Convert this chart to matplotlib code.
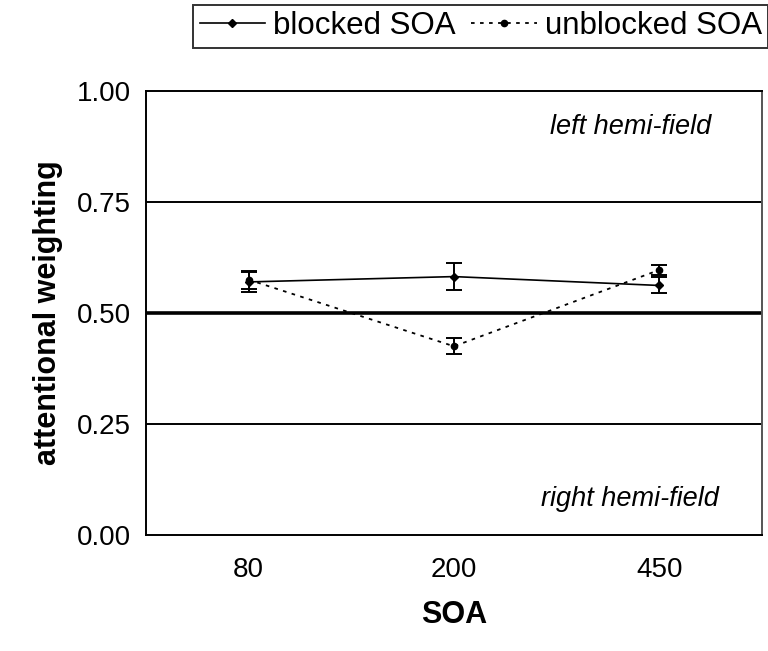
import matplotlib
matplotlib.use("Agg")
import matplotlib.pyplot as plt
from matplotlib.lines import Line2D
import numpy as np

plt.rcParams['font.family'] = ['Liberation Sans', 'DejaVu Sans']

soa_labels = ["80", "200", "450"]
blocked = [0.570, 0.582, 0.562]
blocked_err = [0.022, 0.030, 0.018]
unblocked = [0.575, 0.425, 0.597]
unblocked_err = [0.020, 0.018, 0.012]
y_ticks = [0.00, 0.25, 0.50, 0.75, 1.00]

fig = plt.figure(figsize=(7.68, 6.51), dpi=100)
ax = fig.add_axes([146/768, 1 - 535/651, (762-146)/768, (535-91)/651])

x = np.arange(len(soa_labels)) + 0.5

# reference lines
for yv in (0.25, 0.75):
    ax.axhline(yv, color='black', lw=1.4, zorder=1)
ax.axhline(0.5, color='black', lw=2.6, zorder=1)

blocked_style = dict(color='black', lw=1.2, marker='D', ms=4)
unblocked_style = dict(color='black', lw=1.3, ls=(0, (2, 3)), marker='o', ms=4.5)

ax.errorbar(x, blocked, yerr=blocked_err, capsize=6, capthick=1.4,
            elinewidth=1.4, zorder=3, **blocked_style)
ax.errorbar(x, unblocked, yerr=unblocked_err, capsize=6, capthick=1.4,
            elinewidth=1.4, zorder=3, **unblocked_style)

ax.set_xlim(0, 3)
ax.set_ylim(0, 1)
ax.set_xticks(x)
ax.set_xticklabels(soa_labels)
ax.set_yticks(y_ticks)
ax.set_yticklabels([f"{v:.2f}" for v in y_ticks])
ax.tick_params(axis='both', length=0, labelsize=20)
ax.tick_params(axis='y', pad=11)
ax.tick_params(axis='x', pad=16)

for s in ax.spines.values():
    s.set_linewidth(1.4)
ax.spines['right'].set_color('#555555')

ax.set_xlabel('SOA', fontsize=22, fontweight='bold', labelpad=12)
ax.set_ylabel('attentional weighting', fontsize=22, fontweight='bold', labelpad=10)

ax.text(0.786, 0.919, 'left hemi-field', style='italic', fontsize=19.5,
        transform=ax.transAxes, ha='center', va='center')
ax.text(0.786, 0.081, 'right hemi-field', style='italic', fontsize=19.5,
        transform=ax.transAxes, ha='center', va='center')

handles = [Line2D([], [], **blocked_style), Line2D([], [], **unblocked_style)]
leg = fig.legend(handles, ['blocked SOA', 'unblocked SOA'], loc='upper right',
                 bbox_to_anchor=(1.0, 1 - 5/651), ncol=2, fontsize=22.5,
                 frameon=True, fancybox=False, edgecolor='black', handlelength=2.1,
                 columnspacing=0.5, handletextpad=0.25, borderpad=0.2, borderaxespad=0.0)
leg.get_frame().set_linewidth(1.4)

fig.savefig('out.png', dpi=100)
